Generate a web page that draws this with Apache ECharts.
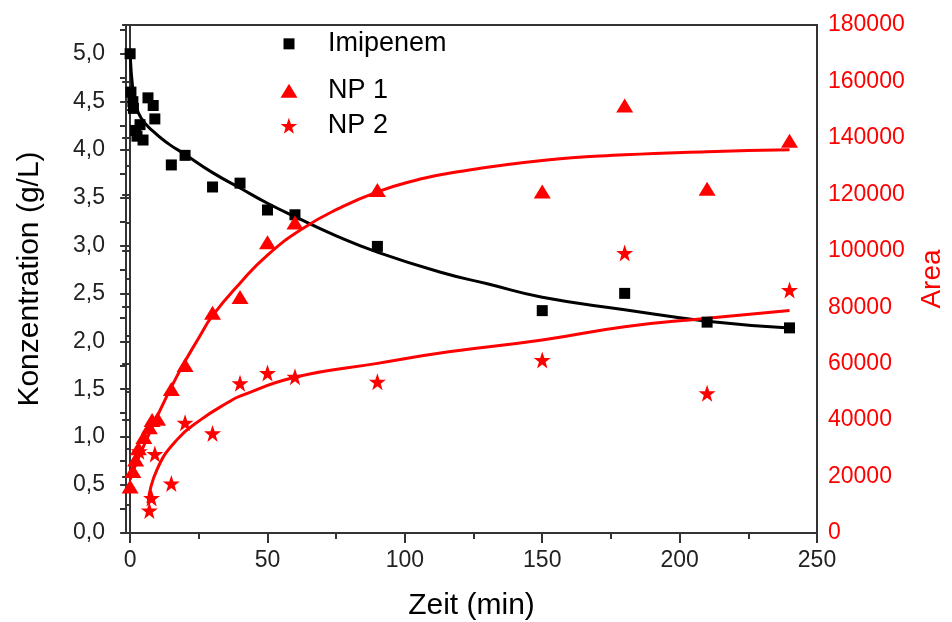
<!DOCTYPE html>
<html>
<head>
<meta charset="utf-8">
<script src="https://cdn.jsdelivr.net/npm/echarts@6/dist/echarts.min.js"></script>
<style>
html,body{margin:0;padding:0;background:#fff;}
#chart{width:952px;height:622px;}
</style>
</head>
<body>
<div id="chart"></div>
<script>
// ---- Data ----
// Imipenem (left axis, g/L)
const impX = [0, 0.3, 1, 1.2, 2, 2.5, 3.6, 4.7, 6.5, 8.4, 9, 15, 20, 30, 40, 50, 60, 90, 150, 180, 210, 240];
const impY = [5.0, 4.6, 4.5, 4.43, 4.2, 4.14, 4.26, 4.1, 4.54, 4.46, 4.32, 3.84, 3.94, 3.61, 3.65, 3.37, 3.32, 2.99, 2.32, 2.5, 2.2, 2.14];
// NP 1 (right axis, Area)
const np1X = [0, 1, 2, 3, 5, 7, 8, 10, 15, 20, 30, 40, 50, 60, 90, 150, 180, 210, 240];
const np1Y = [16500, 22000, 26000, 30000, 34000, 37500, 40000, 40500, 51000, 59500, 78000, 83600, 103000, 110000, 121500, 121000, 151500, 122000, 139000];
// NP 2 (right axis, Area)
const np2X = [3.3, 7, 7.8, 9, 15, 20, 30, 40, 50, 60, 90, 150, 180, 210, 240];
const np2Y = [29000, 8000, 12400, 28000, 17500, 39100, 35300, 53100, 56700, 55400, 53600, 61300, 99200, 49500, 86100];
// Fit curves
const impFitX = [0, 1, 2, 4, 8, 14, 20, 30, 40, 50, 60, 75, 90, 113, 130, 150, 180, 210, 240];
const impFitY = [5.0, 4.62, 4.47, 4.33, 4.2, 4.06, 3.95, 3.76, 3.6, 3.44, 3.3, 3.1, 2.93, 2.72, 2.6, 2.46, 2.33, 2.21, 2.14];
const np1FitX = [0, 3, 8.5, 17, 25.5, 30, 40, 50, 63, 76, 90, 104, 116, 150, 180, 210, 240];
const np1FitY = [19000, 26500, 38500, 55500, 70000, 77000, 88500, 98500, 108000, 115000, 120900, 125000, 127500, 132000, 134000, 135100, 135800];
const np2FitX = [6.5, 9.7, 17, 25.5, 36, 40, 60, 90, 116, 150, 180, 210, 240];
const np2FitY = [10500, 22300, 33000, 40000, 46500, 48500, 55200, 60100, 64200, 68400, 73100, 76100, 78800];
// Ticks
const xMajor = [0, 50, 100, 150, 200, 250];
const xMinor = [25, 75, 125, 175, 225];
const yMajor = [0, 0.5, 1, 1.5, 2, 2.5, 3, 3.5, 4, 4.5, 5];
const yMinor = [0.25, 0.75, 1.25, 1.75, 2.25, 2.75, 3.25, 3.75, 4.25, 4.75, 5.25];
const seriesNames = ['Imipenem', 'NP 1', 'NP 2'];

const zip = (a, b) => a.map((v, i) => [v, b[i]]);
const STAR = 'path://M50,0 L61.8,35.1 L98.1,35.1 L68.8,56.8 L79.4,91.9 L50,70.2 L20.6,91.9 L31.2,56.8 L1.9,35.1 L38.2,35.1 Z';
const FONT = '"Liberation Sans", Arial, sans-serif';
const AX = '#333';
const LEG_FS = 27;

const chart = echarts.init(document.getElementById('chart'), null, {renderer: 'canvas'});
const legendBase = (name, cy, icon, w, h) => ({
  data: [{name: name, icon: icon}],
  left: 289 - w / 2, top: cy - LEG_FS * 0.58 + 4,
  padding: 0,
  itemWidth: w, itemHeight: h,
  selectedMode: false,
  itemStyle: {opacity: 1},
  textStyle: {fontFamily: FONT, fontSize: LEG_FS, color: '#000', padding: [0, 0, 0, 328 - (289 + w / 2 + 5)]}
});
chart.setOption({
  animation: false,
  backgroundColor: '#fff',
  grid: {left: 126, right: 135, top: 25, bottom: 89, containLabel: false, outerBoundsMode: 'none',
         show: true, borderColor: AX, borderWidth: 2, backgroundColor: 'transparent'},
  legend: [
    legendBase(seriesNames[0], 42, 'rect', 11, 11),
    legendBase(seriesNames[1], 89, 'triangle', 17, 14),
    legendBase(seriesNames[2], 124, STAR, 17, 16)
  ],
  xAxis: [
    {type: 'value', min: -1.5, max: 250, position: 'bottom',
     name: 'Zeit (min)', nameLocation: 'middle', nameGap: 58,
     nameTextStyle: {fontFamily: FONT, fontSize: 30, color: '#000'},
     axisLine: {show: true, lineStyle: {color: AX, width: 2}},
     axisTick: {show: true, inside: false, length: 10, customValues: xMajor, lineStyle: {color: AX, width: 2}},
     axisLabel: {show: true, customValues: xMajor, margin: 16, fontFamily: FONT, fontSize: 23, color: '#222'},
     splitLine: {show: false}},
    {type: 'value', min: -1.5, max: 250, position: 'bottom',
     axisLine: {show: false},
     axisTick: {show: true, inside: false, length: 6, customValues: xMinor, lineStyle: {color: AX, width: 2}},
     axisLabel: {show: false}, splitLine: {show: false}}
  ],
  yAxis: [
    {type: 'value', min: 0, max: 5.3, position: 'left',
     name: 'Konzentration (g/L)', nameLocation: 'middle', nameGap: 81,
     nameTextStyle: {fontFamily: FONT, fontSize: 30, color: '#000'},
     axisLine: {show: true, lineStyle: {color: AX, width: 2}},
     axisTick: {show: true, inside: false, length: 10, customValues: yMajor, lineStyle: {color: AX, width: 2}},
     axisLabel: {show: true, customValues: yMajor, margin: 21, fontFamily: FONT, fontSize: 23, color: '#222',
       formatter: v => v.toFixed(1).replace('.', ',')},
     splitLine: {show: false}},
    {type: 'value', min: 0, max: 180000, interval: 20000, position: 'right',
     name: 'Area', nameLocation: 'middle', nameGap: 101,
     nameTextStyle: {fontFamily: FONT, fontSize: 28, color: '#ff0000'},
     axisLine: {show: true, lineStyle: {color: AX, width: 2}},
     axisTick: {show: true, inside: true, length: 8, lineStyle: {color: AX, width: 2}},
     minorTick: {show: true, splitNumber: 2, length: 5, lineStyle: {color: AX, width: 2}},
     axisLabel: {show: true, margin: 11, fontFamily: FONT, fontSize: 23, color: '#ff0000',
       formatter: v => String(Math.round(v))},
     splitLine: {show: false}, minorSplitLine: {show: false}},
    {type: 'value', min: 0, max: 5.3, position: 'left',
     axisLine: {show: false},
     axisTick: {show: true, inside: false, length: 6, customValues: yMinor, lineStyle: {color: AX, width: 2}},
     axisLabel: {show: false}, splitLine: {show: false}}
  ],
  series: [
    {name: 'impFit', type: 'line', xAxisIndex: 0, yAxisIndex: 0, data: zip(impFitX, impFitY),
     smooth: 0.5, showSymbol: false, lineStyle: {color: '#000', width: 3}, z: 2, silent: true},
    {name: 'np1Fit', type: 'line', xAxisIndex: 0, yAxisIndex: 1, data: zip(np1FitX, np1FitY),
     smooth: 0.5, showSymbol: false, lineStyle: {color: '#ff0000', width: 3}, z: 2, silent: true},
    {name: 'np2Fit', type: 'line', xAxisIndex: 0, yAxisIndex: 1, data: zip(np2FitX, np2FitY),
     smooth: 0.5, showSymbol: false, lineStyle: {color: '#ff0000', width: 3}, z: 2, silent: true},
    {name: seriesNames[0], type: 'scatter', xAxisIndex: 0, yAxisIndex: 0, data: zip(impX, impY),
     symbol: 'rect', symbolSize: 11, itemStyle: {color: '#000', opacity: 1}, z: 3},
    {name: seriesNames[1], type: 'scatter', xAxisIndex: 0, yAxisIndex: 1, data: zip(np1X, np1Y),
     symbol: 'triangle', symbolSize: [17, 14], itemStyle: {color: '#ff0000', opacity: 1}, z: 3},
    {name: seriesNames[2], type: 'scatter', xAxisIndex: 0, yAxisIndex: 1, data: zip(np2X, np2Y),
     symbol: STAR, symbolSize: 17, itemStyle: {color: '#ff0000', opacity: 1}, z: 3}
  ]
});
</script>
</body>
</html>
